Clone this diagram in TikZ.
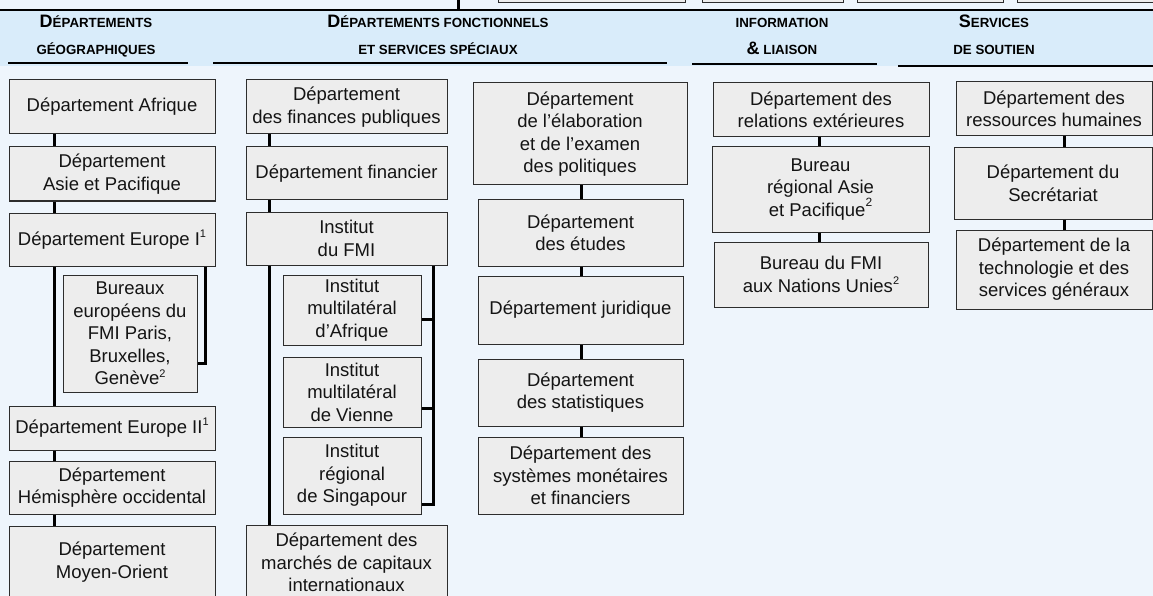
\documentclass[tikz,border=0pt]{standalone}
\usepackage{fontspec}
\setmainfont{Liberation Sans}
\usetikzlibrary{calc}

\definecolor{bgcol}{RGB}{238,245,252}
\definecolor{bandcol}{RGB}{217,236,250}
\definecolor{boxcol}{RGB}{237,237,237}
\definecolor{edgecol}{RGB}{45,45,45}
\definecolor{textcol}{RGB}{20,20,20}

% body text of the boxes
\newcommand{\bodyfont}{\fontsize{18.5}{22.5}\selectfont}
% small-caps look of the column headings
\newcommand{\capbig}[1]{{\fontsize{18}{20}\selectfont #1}}
\newcommand{\capsmall}[1]{{\fontsize{13.3}{16}\selectfont #1}}
% footnote marks
\newcommand{\fnmark}[1]{\raisebox{0.42em}{\fontsize{11}{11}\selectfont #1}}
\newcommand{\fnmarkhigh}[1]{\raisebox{0.55em}{\fontsize{12}{12}\selectfont #1}}

% a box given by its corners (x1,y1) and (x2,y2)
\newcommand{\orgbox}[6]{%
  \node[box, minimum width={#4-#2}, minimum height={#5-#3}] (#1)
    at ({(#2+#4)/2},{(#3+#5)/2}) {#6};}

\begin{document}
\begin{tikzpicture}[x=1pt, y=-1pt,
  box/.style={draw=edgecol, line width=1pt, fill=boxcol, inner sep=0pt,
    align=center, text=textcol, font=\bodyfont},
  topbox/.style={draw=edgecol, line width=1pt, fill=boxcol, inner sep=0pt},
  link/.style={line width=3pt, draw=black},
  rulebar/.style={line width=2.8pt, draw=black},
  hdr/.style={font=\bfseries, text=black, inner sep=0pt, anchor=base}]

\useasboundingbox (0,0) rectangle (1153,596);
\clip (0,0) rectangle (1153,596);
\fill[bgcol] (0,0) rectangle (1153,596);

% heading band
\fill[bandcol] (0,10) rectangle (1153,66);

% boxes of the level above, cut by the top edge
\orgbox{up1}{498}{-30}{685}{2.5}{}
\orgbox{up2}{702}{-30}{843}{2.5}{}
\orgbox{up3}{857}{-30}{1003}{2.5}{}
\orgbox{up4}{1017}{-30}{1170}{2.5}{}
\coordinate (upstem) at (458,-5);
\coordinate (bandtop) at (458,10);
\draw[link] (upstem) -- (bandtop);
\draw[rulebar] (0,10) -- (1153,10);

% column headings
\node[hdr] (h1a) at (96,28) {\capbig{D}\capsmall{ÉPARTEMENTS}};
\node[hdr] (h1b) at (96,55) {\capsmall{GÉOGRAPHIQUES}};
\node[hdr] (h2a) at (438,28) {\capbig{D}\capsmall{ÉPARTEMENTS FONCTIONNELS}};
\node[hdr] (h2b) at (438,55) {\capsmall{ET SERVICES SPÉCIAUX}};
\node[hdr] (h4a) at (782,28) {\capsmall{INFORMATION}};
\node[hdr] (h4b) at (782,55) {\capbig{\&}\capsmall{ LIAISON}};
\node[hdr] (h5a) at (994,28) {\capbig{S}\capsmall{ERVICES}};
\node[hdr] (h5b) at (994,55) {\capsmall{DE SOUTIEN}};

\draw[rulebar] (8,63) -- (188,63);
\draw[rulebar] (213,63) -- (667,63);
\draw[rulebar] (692,64) -- (877,64);
\draw[rulebar] (898,66) -- (1153,66);

% geographic departments
\orgbox{afr}{9}{80}{215}{134}{Département Afrique}
\orgbox{asie}{9}{147}{215}{201}{Département\\Asie et Pacifique}
\orgbox{eur1}{9}{213}{215}{266}{Département Europe I\fnmark{1}}
\orgbox{bur}{63}{275}{197}{392}{Bureaux\\européens du\\FMI Paris,\\Bruxelles,\\Genève\fnmark{2}}
\orgbox{eur2}{9}{406}{215}{450}{Département Europe II\fnmark{1}}
\orgbox{hemi}{9}{461}{215}{514}{Département\\Hémisphère occidental}
\orgbox{moy}{9}{526}{215}{598}{Département\\Moyen-Orient}

% functional departments and special services
\orgbox{fin}{246}{80}{447}{134}{Département\\des finances publiques}
\orgbox{fcier}{246}{147}{447}{200}{Département financier}
\orgbox{inst}{246}{212}{447}{265}{Institut\\du FMI}
\orgbox{iafr}{283}{275}{421}{345}{Institut\\multilatéral\\d’Afrique}
\orgbox{ivie}{283}{357}{421}{427}{Institut\\multilatéral\\de Vienne}
\orgbox{isin}{283}{437}{421}{514}{Institut\\régional\\de Singapour}
\orgbox{marc}{246}{525}{447}{600}{Département des\\marchés de capitaux\\internationaux}

\orgbox{elab}{473}{83}{687}{185}{Département\\de l’élaboration\\et de l’examen\\des politiques}
\orgbox{etud}{478}{200}{683}{266}{Département\\des études}
\orgbox{jur}{478}{276}{683}{344}{Département juridique}
\orgbox{stat}{478}{359}{683}{426}{Département\\des statistiques}
\orgbox{sys}{478}{437}{683}{514}{Département des\\systèmes monétaires\\et financiers}

% information and liaison
\orgbox{rel}{713}{83}{929}{137}{Département des\\relations extérieures}
\orgbox{breg}{712}{147}{929}{232}{Bureau\\régional Asie\\et Pacifique\fnmarkhigh{2}}
\orgbox{bonu}{714}{242}{928}{307}{Bureau du FMI\\aux Nations Unies\fnmark{2}}

% support services
\orgbox{rh}{956}{82}{1152}{136}{Département des\\ressources humaines}
\orgbox{sec}{954}{148}{1152}{219}{Département du\\Secrétariat}
\orgbox{tech}{956}{230}{1152}{309}{Département de la\\technologie et des\\services généraux}

% connector lines
\coordinate (ta) at (54,0);
\draw[link] (afr.south -| ta) -- (asie.north -| ta);
\draw[link] (asie.south -| ta) -- (eur1.north -| ta);
\draw[link] (eur1.south -| ta) -- (eur2.north -| ta);
\draw[link] (eur2.south -| ta) -- (hemi.north -| ta);
\draw[link] (hemi.south -| ta) -- (moy.north -| ta);
\coordinate (tb) at (205,363);
\draw[link] (eur1.south -| tb) |- (bur.east |- tb);

\coordinate (td) at (269,0);
\draw[link] (fin.south -| td) -- (fcier.north -| td);
\draw[link] (fcier.south -| td) -- (inst.north -| td);
\draw[link] (inst.south -| td) -- (marc.north -| td);
\coordinate (tc) at (433,0);
\coordinate (afy) at (0,319);
\coordinate (vny) at (0,408);
\coordinate (sgy) at (0,504);
\draw[link] (inst.south -| tc) |- (isin.east |- sgy);
\draw[link] (tc |- afy) -- (iafr.east |- afy);
\draw[link] (tc |- vny) -- (ivie.east |- vny);

\coordinate (te) at (581,0);
\draw[link] (elab.south -| te) -- (etud.north -| te);
\draw[link] (etud.south -| te) -- (jur.north -| te);
\draw[link] (jur.south -| te) -- (stat.north -| te);
\draw[link] (stat.south -| te) -- (sys.north -| te);

\coordinate (tf) at (819,0);
\draw[link] (rel.south -| tf) -- (breg.north -| tf);
\draw[link] (breg.south -| tf) -- (bonu.north -| tf);

\coordinate (tg) at (1064,0);
\draw[link] (rh.south -| tg) -- (sec.north -| tg);
\draw[link] (sec.south -| tg) -- (tech.north -| tg);
\end{tikzpicture}
\end{document}
